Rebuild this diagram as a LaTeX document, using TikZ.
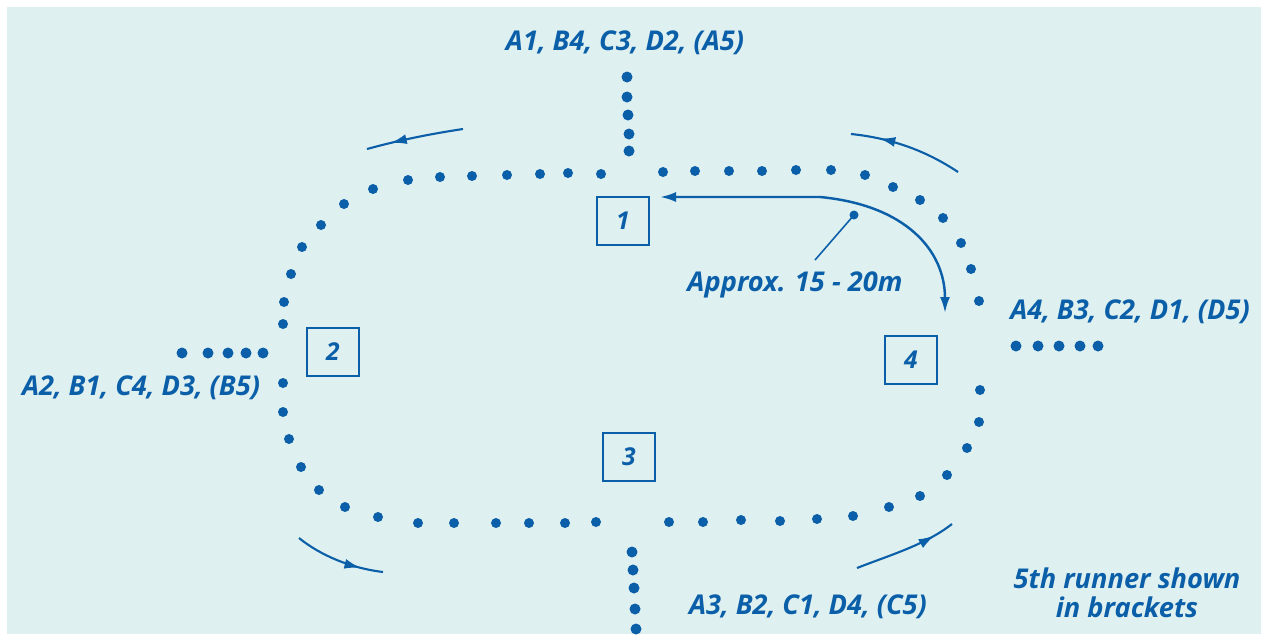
\documentclass[tikz,border=0pt]{standalone}
\usepackage{fontspec}
\setmainfont{Open Sans}
\usetikzlibrary{arrows.meta,decorations.markings}
\definecolor{trackblue}{HTML}{0A5FA8}
\definecolor{pitch}{HTML}{DFF0F0}
\tikzset{
  zone/.style={draw=trackblue, line width=1.3pt, minimum width=1.04cm, minimum height=0.96cm,
    text=trackblue, font=\bfseries\itshape\fontsize{14}{16}\selectfont},
  lbl/.style={text=trackblue, font=\bfseries\itshape\fontsize{15.5}{16.5}\selectfont, inner sep=0pt},
  dir/.style={trackblue, line width=1.2pt, postaction={decorate, decoration={markings,
    mark=at position #1 with {\arrow{Latex[length=3.2mm,width=2mm]}}}}},
}
\begin{document}
\begin{tikzpicture}[x=0.02cm,y=-0.02cm]
\fill[white] (0,0) rectangle (1261,634);
\fill[pitch] (7,7) rectangle (1261,634);
% track dots
\foreach \x/\y in {373/189, 408/180, 440/177, 472/176, 507/175, 540/174, 568/173, 601/174,
  663/172, 695/171, 729/171, 762/171, 796/170, 831/170, 865/175, 893/187, 920/200, 943/218,
  961/243, 971/269, 979/301, 980/390, 979/422, 967/448, 947/475, 920/496, 889/507, 853/516,
  817/519, 780/521, 741/520, 703/522, 669/522, 596/522, 565/523, 529/523, 496/523, 454/523,
  418/523, 378/517, 345/507, 319/490, 301/467, 289/439, 283/412, 283/383, 283/324, 284/302,
  291/274, 302/247, 321/225, 344/204}
  \fill[trackblue] (\x,\y) circle[radius=0.1cm];
% changeover lanes
\foreach \x/\y in {627/77, 627/97, 628/115, 629/134, 629/151, 182/353, 208/353, 228/353,
  246/353, 263/353, 1016/346, 1038/346, 1059/346, 1080/346, 1098/346, 632/552, 633/570,
  634/588, 635/609, 636/629}
  \fill[trackblue] (\x,\y) circle[radius=0.11cm];
% zones
\node[zone] (z1) at (623,221) {1};
\node[zone] (z2) at (333,352) {2};
\node[zone] (z3) at (629,457) {3};
\node[zone] (z4) at (911,360) {4};
% labels
\node[lbl] (lab1) at (625,43) {A1, B4, C3, D2, (A5)};
\node[lbl] (lab2) at (141,388) {A2, B1, C4, D3, (B5)};
\node[lbl] (lab3) at (808,607) {A3, B2, C1, D4, (C5)};
\node[lbl] (lab4) at (1130,312) {A4, B3, C2, D1, (D5)};
\node[lbl, align=center] (note) at (1127,593) {5th runner shown\\in brackets};
\node[lbl] (approx) at (795,285) {Approx. 15 - 20m};
% distance arrow
\coordinate (dA) at (660,197);
\coordinate (dB) at (945,313);
\coordinate (pA) at (815,260);
\coordinate (pB) at (854,215);
\draw[trackblue, line width=1.4pt, {Latex[length=3.2mm,width=2mm]}-{Latex[length=3.2mm,width=2mm]}]
  (dA) -- (820,197) .. controls (905,205) and (945,250) .. (dB);
\draw[trackblue, line width=0.9pt] (pA) -- (pB);
\fill[trackblue] (pB) circle[radius=0.09cm];
% running direction
\coordinate (r1a) at (463,129);
\coordinate (r1b) at (367,149);
\coordinate (r2a) at (958,172);
\coordinate (r2b) at (851,134);
\coordinate (r3a) at (299,538);
\coordinate (r3b) at (383,572);
\coordinate (r4a) at (857,568);
\coordinate (r4b) at (952,524);
\draw[dir=0.75] (r1a) .. controls (430,134) and (400,140) .. (r1b);
\draw[dir=0.75] (r2a) .. controls (925,150) and (890,138) .. (r2b);
\draw[dir=0.75] (r3a) .. controls (320,555) and (350,568) .. (r3b);
\draw[dir=0.8] (r4a) .. controls (890,555) and (925,545) .. (r4b);
\end{tikzpicture}
\end{document}
